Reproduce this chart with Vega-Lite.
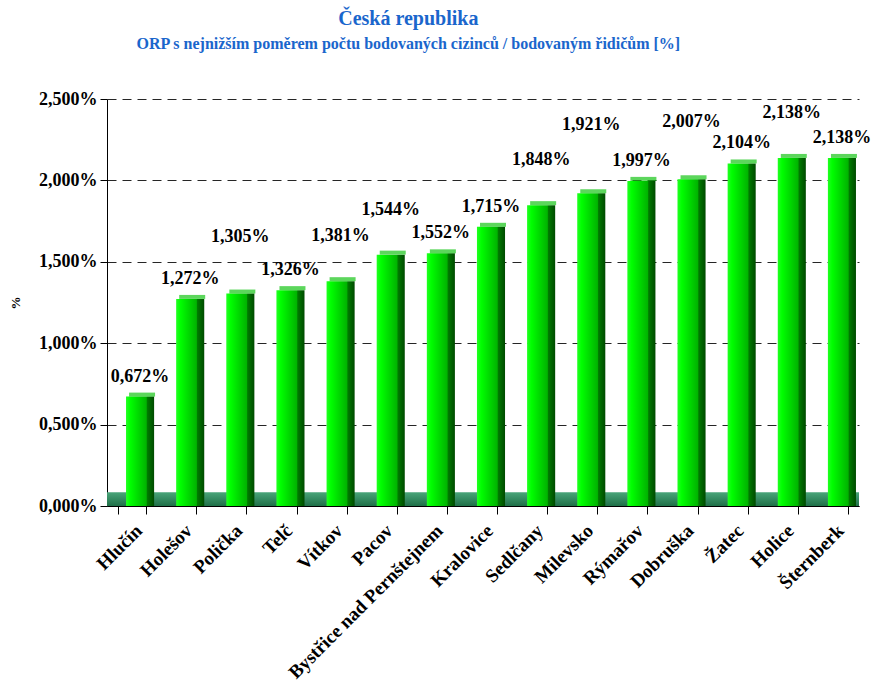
{
  "$schema": "https://vega.github.io/schema/vega-lite/v6.json",
  "width": 752,
  "height": 407,
  "autosize": "none",
  "padding": {"left": 107, "top": 99, "right": 17, "bottom": 180},
  "background": "white",
  "config": {"font": "Liberation Serif", "view": {"stroke": null}},
  "title": {
    "text": "Česká republika",
    "subtitle": "ORP s nejnižším poměrem počtu bodovaných cizinců / bodovaným řidičům [%]",
    "anchor": "middle",
    "frame": "bounds",
    "dx": -32,
    "font": "Liberation Serif",
    "fontSize": 20,
    "fontWeight": "bold",
    "color": "#1a66cc",
    "subtitleFont": "Liberation Serif",
    "subtitleFontSize": 16,
    "subtitleFontWeight": "bold",
    "subtitleColor": "#1a66cc",
    "subtitlePadding": 7,
    "offset": 38
  },
  "data": {
    "values": [
      {"orp": "Hlučín", "value": 0.672, "tier": 0},
      {"orp": "Holešov", "value": 1.272, "tier": 0},
      {"orp": "Polička", "value": 1.305, "tier": 2},
      {"orp": "Telč", "value": 1.326, "tier": 0},
      {"orp": "Vítkov", "value": 1.381, "tier": 1},
      {"orp": "Pacov", "value": 1.544, "tier": 1},
      {"orp": "Bystřice nad Pernštejnem", "value": 1.552, "tier": 0},
      {"orp": "Kralovice", "value": 1.715, "tier": 0},
      {"orp": "Sedlčany", "value": 1.848, "tier": 1},
      {"orp": "Milevsko", "value": 1.921, "tier": 3},
      {"orp": "Rýmařov", "value": 1.997, "tier": 0},
      {"orp": "Dobruška", "value": 2.007, "tier": 2},
      {"orp": "Žatec", "value": 2.104, "tier": 0},
      {"orp": "Holice", "value": 2.138, "tier": 1},
      {"orp": "Šternberk", "value": 2.138, "tier": 0}
    ]
  },
  "transform": [
    {"calculate": "replace(format(datum.value, '.3f'), '.', ',') + '%'", "as": "label"}
  ],
  "layer": [
    {
      "data": {"values": [{}]},
      "mark": {
        "type": "rect",
        "color": {
          "gradient": "linear", "x1": 0, "x2": 0, "y1": 0, "y2": 1,
          "stops": [{"offset": 0, "color": "#4aa57a"}, {"offset": 1, "color": "#1f7048"}]
        }
      },
      "encoding": {
        "y": {"datum": 0, "type": "quantitative"},
        "y2": {"datum": 0.085}
      }
    },
    {
      "mark": {
        "type": "bar",
        "xOffset": 8,
        "color": {
          "gradient": "linear", "x1": 0, "x2": 1, "y1": 0, "y2": 0,
          "stops": [
            {"offset": 0, "color": "#22ff22"},
            {"offset": 0.15, "color": "#00ff00"},
            {"offset": 0.72, "color": "#00b400"},
            {"offset": 0.76, "color": "#007a00"},
            {"offset": 1, "color": "#004a00"}
          ]
        }
      },
      "encoding": {
        "x": {
          "field": "orp", "type": "nominal", "sort": null,
          "scale": {"paddingInner": 0.44, "paddingOuter": 0.22},
          "axis": {
            "title": null,
            "labelAngle": -45,
            "labelFont": "Liberation Serif",
            "labelFontSize": 19,
            "labelFontWeight": "bold",
            "labelColor": "black",
            "labelLimit": 400,
            "labelPadding": 7,
            "tickBand": "extent",
            "tickSize": 8,
            "tickColor": "black",
            "domainColor": "black",
            "grid": false
          }
        },
        "y": {
          "field": "value", "type": "quantitative",
          "scale": {"domain": [0, 2.5], "padding": 0, "nice": false},
          "axis": {
            "values": [0, 0.5, 1, 1.5, 2, 2.5],
            "labelExpr": "replace(format(datum.value, '.3f'), '.', ',') + '%'",
            "labelFont": "Liberation Serif",
            "labelFontSize": 18,
            "labelFontWeight": "bold",
            "labelColor": "black",
            "labelPadding": 3,
            "title": "%",
            "titleFont": "Liberation Serif",
            "titleFontSize": 13,
            "titleFontWeight": "bold",
            "titleColor": "black",
            "titlePadding": 16,
            "tickSize": 7,
            "tickColor": "black",
            "domainColor": "black",
            "grid": true,
            "gridColor": "black",
            "gridDash": [9, 6],
            "gridOpacity": 0.85
          }
        }
      }
    },
    {
      "mark": {"type": "tick", "xOffset": 10, "yOffset": -2, "thickness": 4, "size": 26, "color": "#17c417"},
      "encoding": {
        "x": {"field": "orp", "type": "nominal", "sort": null},
        "y": {"field": "value", "type": "quantitative"}
      }
    },
    {
      "transform": [{"filter": "datum.tier == 0"}],
      "mark": {"type": "text", "xOffset": 8, "dy": -20, "baseline": "middle", "font": "Liberation Serif", "fontSize": 18, "fontWeight": "bold", "color": "black"},
      "encoding": {
        "x": {"field": "orp", "type": "nominal", "sort": null},
        "y": {"field": "value", "type": "quantitative"},
        "text": {"field": "label"}
      }
    },
    {
      "transform": [{"filter": "datum.tier == 1"}],
      "mark": {"type": "text", "xOffset": 8, "dy": -45, "baseline": "middle", "font": "Liberation Serif", "fontSize": 18, "fontWeight": "bold", "color": "black"},
      "encoding": {
        "x": {"field": "orp", "type": "nominal", "sort": null},
        "y": {"field": "value", "type": "quantitative"},
        "text": {"field": "label"}
      }
    },
    {
      "transform": [{"filter": "datum.tier == 2"}],
      "mark": {"type": "text", "xOffset": 8, "dy": -57, "baseline": "middle", "font": "Liberation Serif", "fontSize": 18, "fontWeight": "bold", "color": "black"},
      "encoding": {
        "x": {"field": "orp", "type": "nominal", "sort": null},
        "y": {"field": "value", "type": "quantitative"},
        "text": {"field": "label"}
      }
    },
    {
      "transform": [{"filter": "datum.tier == 3"}],
      "mark": {"type": "text", "xOffset": 8, "dy": -68, "baseline": "middle", "font": "Liberation Serif", "fontSize": 18, "fontWeight": "bold", "color": "black"},
      "encoding": {
        "x": {"field": "orp", "type": "nominal", "sort": null},
        "y": {"field": "value", "type": "quantitative"},
        "text": {"field": "label"}
      }
    }
  ]
}
